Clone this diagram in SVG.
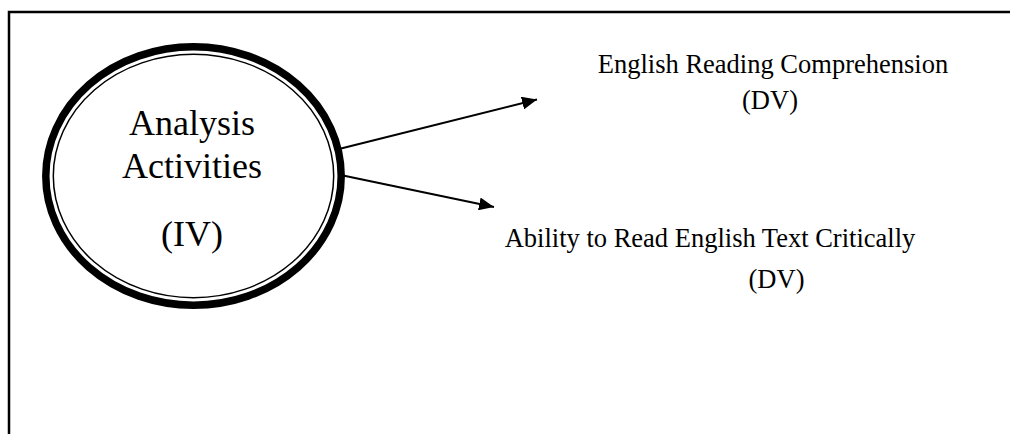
<svg xmlns="http://www.w3.org/2000/svg" width="1010" height="434" viewBox="0 0 1010 434">
  <style>
    text { font-family: "Liberation Serif", "Times New Roman", serif; fill: #000; }
    .big { font-size: 36px; }
    .lbl { font-size: 26.5px; }
    .edge { stroke: #000; stroke-width: 2; fill: none; }
  </style>
  <defs>
    <marker id="arrow" markerWidth="15" markerHeight="13" refX="15" refY="6.5" orient="auto" markerUnits="userSpaceOnUse">
      <path d="M0,0 L15,6.5 L0,13 Z" fill="#000"/>
    </marker>
  </defs>
  <rect width="1010" height="434" fill="#fff"/>

  <!-- frame -->
  <path d="M9,434 V12 H1010" fill="none" stroke="#000" stroke-width="2.5"/>

  <!-- independent variable -->
  <g id="node-iv">
    <ellipse cx="193.5" cy="176" rx="147.7" ry="129.2" fill="#fff" stroke="#000" stroke-width="7.5"/>
    <ellipse cx="193.5" cy="176" rx="140.2" ry="121.7" fill="none" stroke="#000" stroke-width="1.5"/>
    <text class="big" x="192" y="135" text-anchor="middle">Analysis</text>
    <text class="big" x="192" y="178" text-anchor="middle">Activities</text>
    <text class="big" x="192" y="246" text-anchor="middle">(IV)</text>
  </g>

  <!-- dependent variables -->
  <g id="node-dv1">
    <text class="lbl" x="773" y="73" text-anchor="middle">English Reading Comprehension</text>
    <text class="lbl" x="770" y="109" text-anchor="middle">(DV)</text>
  </g>
  <g id="node-dv2">
    <text class="lbl" x="710" y="246.5" text-anchor="middle">Ability to Read English Text Critically</text>
    <text class="lbl" x="776.5" y="288" text-anchor="middle">(DV)</text>
  </g>

  <!-- connectors -->
  <g id="connectors">
    <line class="edge" x1="341" y1="148.5" x2="537" y2="99.5" marker-end="url(#arrow)"/>
    <line class="edge" x1="343" y1="175.5" x2="494" y2="207" marker-end="url(#arrow)"/>
  </g>
</svg>
